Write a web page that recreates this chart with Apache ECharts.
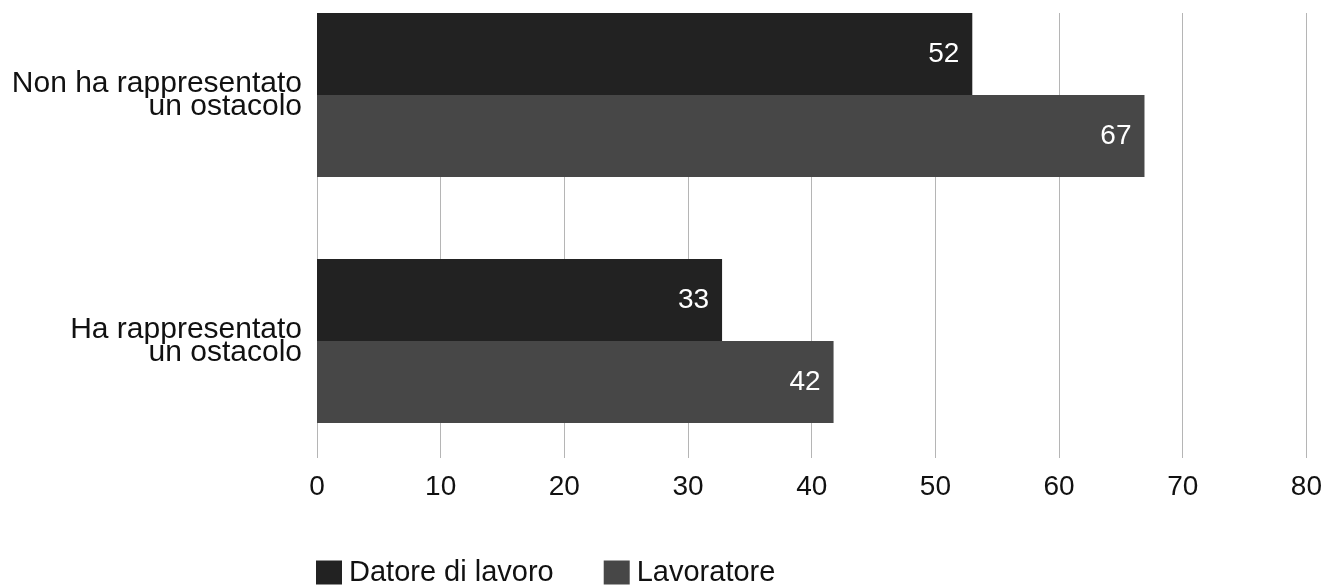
<!DOCTYPE html>
<html>
<head>
<meta charset="utf-8">
<script src="https://cdn.jsdelivr.net/npm/echarts@6/dist/echarts.min.js"></script>
<style>
html,body{margin:0;padding:0;background:#fff;}
#chart{width:1325px;height:585px;}
</style>
</head>
<body>
<div id="chart"></div>
<script>
const categories = ['Non ha rappresentato\nun ostacolo', 'Ha rappresentato\nun ostacolo'];
const seriesNames = ['Datore di lavoro', 'Lavoratore'];
const datoreValues = [52.9, 32.7];
const lavoratoreValues = [66.8, 41.7];
const datoreLabels = ['52', '33'];
const lavoratoreLabels = ['67', '42'];
const xTicks = [0, 10, 20, 30, 40, 50, 60, 70, 80];

const FONT = 'Liberation Sans, Arial, sans-serif';
const chart = echarts.init(document.getElementById('chart'), null, {renderer: 'canvas'});

const option = {
  animation: false,
  backgroundColor: '#ffffff',
  textStyle: {fontFamily: FONT},
  legend: {
    data: seriesNames,
    left: 316,
    top: 558,
    padding: 0,
    itemWidth: 26,
    itemHeight: 24,
    itemGap: 50,
    textStyle: {fontFamily: FONT, fontSize: 29, color: '#111', padding: [0, 0, 0, 2]},
    icon: 'rect'
  },
  grid: [
    {left: 317, right: 17, top: 95, bottom: 244, containLabel: false},
    {left: 317, right: 17, top: 13, bottom: 127, containLabel: false}
  ],
  xAxis: [
    {
      gridIndex: 0, type: 'value', min: xTicks[0], max: xTicks[xTicks.length - 1], interval: 10,
      show: false
    },
    {
      gridIndex: 1, type: 'value', min: xTicks[0], max: xTicks[xTicks.length - 1], interval: 10,
      axisLine: {show: false}, axisTick: {show: false},
      splitLine: {show: true, lineStyle: {color: '#b5b5b5', width: 1}},
      axisLabel: {fontFamily: FONT, fontSize: 28, color: '#111', margin: 15,
        formatter: function (v) { return xTicks.indexOf(v) >= 0 ? String(v) : ''; }}
    }
  ],
  yAxis: [
    {
      gridIndex: 0, type: 'category', data: categories, inverse: true, boundaryGap: false,
      axisLine: {show: false}, axisTick: {show: false}, splitLine: {show: false},
      axisLabel: {fontFamily: FONT, fontSize: 30, lineHeight: 23, color: '#111', margin: 15,
        padding: [0, 0, 18, 0]}
    },
    {
      gridIndex: 1, type: 'value', min: 0, max: 1, show: false
    }
  ],
  series: [
    {
      name: seriesNames[0], type: 'bar', xAxisIndex: 0, yAxisIndex: 0, clip: false,
      data: datoreValues, barWidth: 82, barGap: '0%', z: 3,
      itemStyle: {color: '#222222'},
      label: {show: true, position: 'insideRight', distance: 13, color: '#ffffff',
        fontFamily: FONT, fontSize: 28,
        formatter: function (p) { return datoreLabels[p.dataIndex]; }}
    },
    {
      name: seriesNames[1], type: 'bar', xAxisIndex: 0, yAxisIndex: 0, clip: false,
      data: lavoratoreValues, barWidth: 82, barGap: '0%', z: 3,
      itemStyle: {color: '#474747'},
      label: {show: true, position: 'insideRight', distance: 13, color: '#ffffff',
        fontFamily: FONT, fontSize: 28,
        formatter: function (p) { return lavoratoreLabels[p.dataIndex]; }}
    }
  ]
};
chart.setOption(option);
</script>
</body>
</html>
